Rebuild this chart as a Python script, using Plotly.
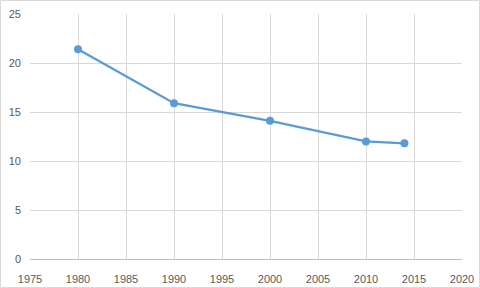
import plotly.graph_objects as go

years = [1980, 1990, 2000, 2010, 2014]
values = [21.4, 15.9, 14.1, 12.0, 11.8]
x_ticks = [1975, 1980, 1985, 1990, 1995, 2000, 2005, 2010, 2015, 2020]
y_ticks = [0, 5, 10, 15, 20, 25]

W, H = 480, 288
ml, mr, mt, mb = 30, 18, 14, 29

fig = go.Figure()
fig.add_trace(go.Scatter(
    x=years, y=values, mode="lines+markers",
    line=dict(color="#5B9BD5", width=2.25),
    marker=dict(color="#5B9BD5", size=8),
    showlegend=False,
))

pw = W - ml - mr
ph = H - mt - mb
fig.add_shape(type="rect", xref="paper", yref="paper",
              x0=(0.5 - ml) / pw, x1=(W - 0.5 - ml) / pw,
              y0=-(mb - 0.5) / ph, y1=1 + (mt - 0.5) / ph,
              line=dict(color="#D9D9D9", width=1), layer="below")

fig.update_layout(
    width=W, height=H,
    margin=dict(l=ml, r=mr, t=mt, b=mb, autoexpand=False),
    paper_bgcolor="white", plot_bgcolor="white",
    font=dict(family="Liberation Sans, Arial, sans-serif", size=11, color="#595959"),
    xaxis=dict(range=[1975, 2020], tickvals=x_ticks, showgrid=True,
               gridcolor="#D9D9D9", gridwidth=1, zeroline=False,
               showline=True, linecolor="#BFBFBF", linewidth=1,
               mirror=False, ticks="", ticklen=0, automargin=False,
               ticklabelstandoff=10, tickfont=dict(size=11)),
    yaxis=dict(range=[0, 25], tickvals=y_ticks, showgrid=True,
               gridcolor="#D9D9D9", gridwidth=1, zeroline=False,
               showline=False, ticks="", automargin=False,
               ticklabelstandoff=8, tickfont=dict(size=11)),
)

fig.write_html("out.html", config={"displayModeBar": False},
               post_script="document.body.style.margin='0';document.body.style.overflow='hidden';")
